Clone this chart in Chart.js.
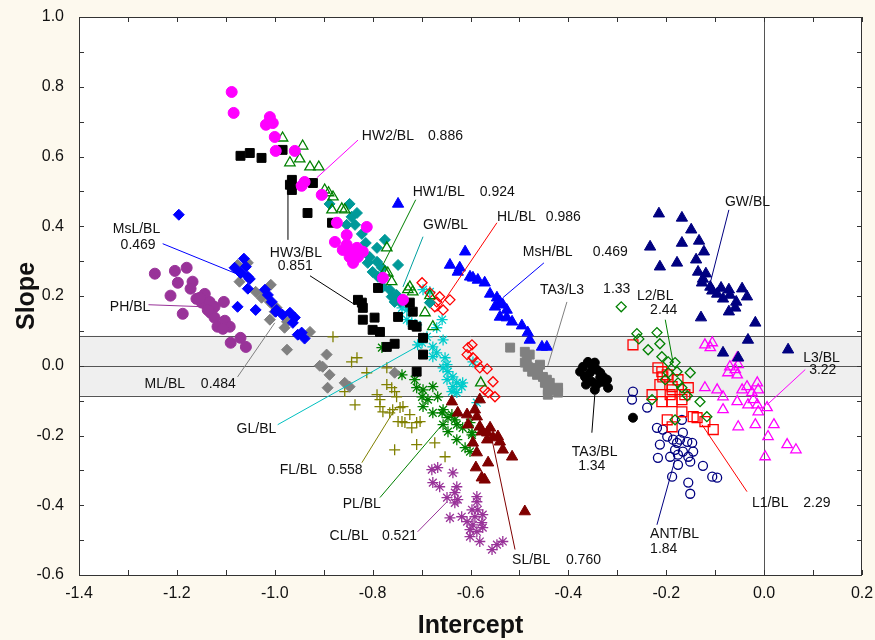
<!DOCTYPE html>
<html>
<head>
<meta charset="utf-8">
<script src="https://cdn.jsdelivr.net/npm/chart.js@4.4.1/dist/chart.umd.min.js"></script>
<style>
  html, body { margin: 0; padding: 0; background: #fdf9ee; }
  #wrap { width: 875px; height: 640px; }
</style>
</head>
<body>
<div id="wrap"><canvas id="chart" width="875" height="640"></canvas></div>
<script>
// Slope vs intercept scatter

// AXES
const xTicks = [-1.4, -1.2, -1.0, -0.8, -0.6, -0.4, -0.2, 0.0, 0.2];
const yTicks = [-0.6, -0.4, -0.2, 0.0, 0.2, 0.4, 0.6, 0.8, 1.0];
const bandLimit = 0.086; // shaded band around slope 0

// SERIES  ([intercept, slope])
const PH_BL = [[-1.245,0.264],[-1.204,0.272],[-1.180,0.281],[-1.198,0.238],[-1.168,0.241],[-1.172,0.221],[-1.213,0.201],[-1.143,0.206],[-1.160,0.192],[-1.149,0.181],[-1.133,0.183],[-1.123,0.169],[-1.104,0.183],[-1.188,0.149],[-1.131,0.152],[-1.123,0.138],[-1.102,0.129],[-1.117,0.112],[-1.092,0.112],[-1.106,0.106],[-1.090,0.066],[-1.070,0.080],[-1.059,0.054],[-1.137,0.160],[-1.153,0.195]];
const MsL_BL = [[-1.196,0.433],[-1.063,0.307],[-1.082,0.281],[-1.059,0.284],[-1.070,0.266],[-1.055,0.255],[-1.051,0.249],[-1.076,0.169],[-1.055,0.221],[-1.039,0.160],[-1.020,0.218],[-1.014,0.203],[-0.998,0.155],[-1.006,0.183],[-0.996,0.160],[-0.984,0.146],[-0.969,0.152],[-0.959,0.138],[-0.963,0.123],[-0.953,0.089],[-0.945,0.095],[-0.939,0.078]];
const ML_BL = [[-1.076,0.289],[-1.072,0.241],[-1.039,0.212],[-1.008,0.232],[-1.010,0.183],[-1.000,0.155],[-1.010,0.132],[-1.004,0.175],[-0.996,0.166],[-0.980,0.109],[-0.975,0.126],[-0.928,0.097],[-0.975,0.046],[-0.894,0.032],[-0.908,0.000],[-0.902,-0.003],[-0.888,-0.026],[-0.892,-0.063],[-0.857,-0.049],[-0.847,-0.060],[-0.755,-0.020],[-1.055,0.295],[-1.027,0.195]];
const HW3_BL = [[-1.070,0.602],[-1.051,0.610],[-1.027,0.596],[-0.984,0.619],[-0.965,0.533],[-0.965,0.504],[-0.969,0.519],[-0.922,0.524],[-0.933,0.438],[-0.883,0.410],[-0.830,0.189],[-0.822,0.181],[-0.820,0.166],[-0.820,0.132],[-0.796,0.138],[-0.800,0.103],[-0.785,0.097],[-0.771,0.054],[-0.755,0.063],[-0.789,0.223],[-0.748,0.140],[-0.724,0.181],[-0.718,0.155],[-0.718,0.117],[-0.710,0.112],[-0.697,0.080],[-0.697,0.032],[-0.710,-0.017]];
const HW2_BL = [[-1.088,0.785],[-1.084,0.725],[-1.010,0.713],[-1.004,0.696],[-1.018,0.691],[-1.000,0.656],[-0.998,0.616],[-0.959,0.616],[-0.939,0.527],[-0.945,0.516],[-0.904,0.490],[-0.873,0.410],[-0.853,0.375],[-0.812,0.398],[-0.877,0.355],[-0.853,0.347],[-0.832,0.338],[-0.840,0.324],[-0.830,0.312],[-0.840,0.295],[-0.820,0.327],[-0.847,0.312],[-0.779,0.252],[-0.738,0.189],[-0.861,0.332]];
const HW1_BL = [[-0.984,0.653],[-0.943,0.630],[-0.949,0.593],[-0.969,0.582],[-0.928,0.570],[-0.910,0.570],[-0.898,0.504],[-0.890,0.496],[-0.881,0.484],[-0.883,0.447],[-0.863,0.450],[-0.857,0.447],[-0.771,0.338],[-0.775,0.269],[-0.769,0.266],[-0.761,0.241],[-0.724,0.226],[-0.718,0.212],[-0.728,0.218],[-0.693,0.152],[-0.677,0.112],[-0.683,0.201],[-0.579,-0.049]];
const GWm_BL = [[-0.888,0.464],[-0.847,0.464],[-0.843,0.427],[-0.832,0.438],[-0.853,0.404],[-0.836,0.404],[-0.814,0.352],[-0.775,0.361],[-0.791,0.338],[-0.806,0.312],[-0.791,0.298],[-0.810,0.295],[-0.781,0.281],[-0.800,0.269],[-0.748,0.289],[-0.789,0.255],[-0.779,0.226],[-0.765,0.218],[-0.761,0.198],[-0.751,0.203],[-0.755,0.183],[-0.744,0.183],[-0.683,0.181],[-0.822,0.378]];
const HL_BL = [[-0.699,0.238],[-0.683,0.209],[-0.669,0.183],[-0.663,0.198],[-0.656,0.160],[-0.673,0.169],[-0.605,0.052],[-0.607,0.032],[-0.597,0.060],[-0.595,0.023],[-0.587,0.011],[-0.581,-0.006],[-0.566,-0.009],[-0.554,-0.046],[-0.571,-0.069],[-0.564,-0.077],[-0.550,-0.089],[-0.642,0.189]];
const MsH_BL = [[-0.748,0.464],[-0.611,0.327],[-0.622,0.281],[-0.601,0.255],[-0.595,0.252],[-0.585,0.246],[-0.571,0.238],[-0.560,0.206],[-0.546,0.195],[-0.540,0.183],[-0.550,0.169],[-0.534,0.175],[-0.526,0.160],[-0.540,0.140],[-0.526,0.138],[-0.515,0.126],[-0.495,0.115],[-0.483,0.095],[-0.454,0.054],[-0.444,0.054],[-0.479,0.074],[-0.642,0.289],[-0.626,0.269]];
const TA3_L3 = [[-0.519,0.052],[-0.489,0.040],[-0.485,0.023],[-0.479,0.032],[-0.489,0.009],[-0.483,-0.003],[-0.468,-0.006],[-0.474,-0.017],[-0.462,-0.017],[-0.464,-0.026],[-0.452,-0.032],[-0.444,-0.040],[-0.448,-0.049],[-0.438,-0.049],[-0.442,-0.069],[-0.431,-0.069],[-0.421,-0.063],[-0.421,-0.077],[-0.442,-0.083],[-0.458,0.003]];
const TA3_BL = [[-0.360,0.011],[-0.370,-0.003],[-0.376,-0.017],[-0.350,-0.003],[-0.342,-0.011],[-0.335,-0.020],[-0.329,-0.032],[-0.321,-0.040],[-0.366,-0.032],[-0.352,-0.046],[-0.342,-0.054],[-0.346,-0.069],[-0.319,-0.063],[-0.356,-0.020],[-0.331,-0.046],[-0.268,-0.149],[-0.346,0.009],[-0.364,-0.054],[-0.335,-0.034]];
const L2_BL = [[-0.292,0.169],[-0.260,0.092],[-0.256,0.077],[-0.237,0.046],[-0.219,0.095],[-0.209,0.026],[-0.196,0.011],[-0.182,0.009],[-0.178,-0.017],[-0.196,-0.020],[-0.202,-0.040],[-0.176,-0.049],[-0.168,-0.063],[-0.151,-0.020],[-0.131,-0.103],[-0.117,-0.146],[-0.182,-0.155],[-0.229,-0.097],[-0.213,0.063],[-0.157,-0.086]];
const GW_BL = [[-0.215,0.436],[-0.168,0.424],[-0.149,0.390],[-0.133,0.358],[-0.168,0.352],[-0.233,0.341],[-0.123,0.327],[-0.139,0.304],[-0.178,0.295],[-0.213,0.284],[-0.135,0.269],[-0.119,0.264],[-0.125,0.249],[-0.127,0.238],[-0.110,0.226],[-0.088,0.223],[-0.072,0.218],[-0.045,0.221],[-0.106,0.215],[-0.096,0.206],[-0.084,0.192],[-0.070,0.203],[-0.035,0.198],[-0.057,0.183],[-0.059,0.166],[-0.072,0.155],[-0.129,0.138],[-0.018,0.123],[-0.033,0.074],[-0.084,0.037],[-0.053,0.023],[0.049,0.046]];
const L3_BL = [[-0.121,0.060],[-0.110,0.052],[-0.106,0.066],[-0.070,-0.003],[-0.074,-0.020],[-0.059,-0.011],[-0.055,-0.026],[-0.053,0.003],[-0.121,-0.063],[-0.096,-0.069],[-0.084,-0.089],[-0.045,-0.069],[-0.035,-0.060],[-0.014,-0.049],[-0.012,-0.069],[-0.025,-0.077],[-0.022,-0.097],[-0.033,-0.112],[-0.014,-0.112],[0.006,-0.120],[-0.012,-0.132],[-0.084,-0.126],[-0.055,-0.103],[-0.053,-0.175],[-0.018,-0.169],[0.020,-0.169],[0.008,-0.203],[0.047,-0.226],[0.065,-0.241],[0.002,-0.261],[-0.055,0.023]];
const L1_BL = [[-0.268,0.060],[-0.217,-0.006],[-0.209,-0.017],[-0.207,-0.032],[-0.198,-0.026],[-0.188,-0.060],[-0.188,-0.069],[-0.192,-0.083],[-0.229,-0.083],[-0.209,-0.103],[-0.188,-0.103],[-0.168,-0.097],[-0.155,-0.063],[-0.162,-0.083],[-0.168,-0.132],[-0.145,-0.146],[-0.137,-0.149],[-0.121,-0.160],[-0.104,-0.183],[-0.198,-0.155],[-0.188,-0.175],[-0.213,-0.054],[-0.176,-0.040]];
const ANT_BL = [[-0.268,-0.074],[-0.270,-0.097],[-0.239,-0.120],[-0.219,-0.178],[-0.207,-0.183],[-0.198,-0.203],[-0.186,-0.212],[-0.172,-0.212],[-0.166,-0.192],[-0.178,-0.221],[-0.157,-0.218],[-0.147,-0.221],[-0.168,-0.155],[-0.182,-0.241],[-0.166,-0.246],[-0.176,-0.255],[-0.155,-0.261],[-0.145,-0.246],[-0.217,-0.264],[-0.192,-0.261],[-0.176,-0.284],[-0.151,-0.275],[-0.125,-0.287],[-0.188,-0.318],[-0.106,-0.318],[-0.096,-0.321],[-0.155,-0.335],[-0.151,-0.367],[-0.213,-0.226]];
const SL_BL = [[-0.638,-0.103],[-0.626,-0.135],[-0.607,-0.140],[-0.587,-0.146],[-0.605,-0.169],[-0.581,-0.175],[-0.577,-0.189],[-0.566,-0.192],[-0.554,-0.206],[-0.544,-0.203],[-0.566,-0.212],[-0.595,-0.221],[-0.587,-0.249],[-0.534,-0.241],[-0.515,-0.261],[-0.564,-0.278],[-0.589,-0.292],[-0.577,-0.321],[-0.571,-0.327],[-0.489,-0.418],[-0.581,-0.097],[-0.591,-0.126],[-0.560,-0.178],[-0.540,-0.218]];
const CL_BL = [[-0.679,-0.298],[-0.667,-0.292],[-0.636,-0.307],[-0.677,-0.335],[-0.663,-0.347],[-0.628,-0.347],[-0.632,-0.364],[-0.648,-0.378],[-0.626,-0.384],[-0.632,-0.393],[-0.587,-0.375],[-0.587,-0.390],[-0.597,-0.413],[-0.585,-0.413],[-0.575,-0.427],[-0.591,-0.433],[-0.618,-0.433],[-0.642,-0.436],[-0.607,-0.447],[-0.595,-0.456],[-0.577,-0.450],[-0.601,-0.470],[-0.587,-0.476],[-0.575,-0.464],[-0.601,-0.490],[-0.581,-0.504],[-0.556,-0.527],[-0.546,-0.513],[-0.534,-0.504]];
const PL_BL = [[-0.781,0.052],[-0.740,-0.026],[-0.714,-0.040],[-0.710,-0.063],[-0.697,-0.069],[-0.699,-0.089],[-0.687,-0.097],[-0.677,-0.060],[-0.667,-0.089],[-0.656,-0.126],[-0.638,-0.140],[-0.658,-0.135],[-0.632,-0.155],[-0.697,-0.117],[-0.677,-0.135],[-0.646,-0.149],[-0.628,-0.169],[-0.656,-0.169],[-0.646,-0.189],[-0.601,-0.163],[-0.628,-0.212],[-0.611,-0.235],[-0.601,-0.246],[-0.597,-0.192],[-0.616,-0.178],[-0.597,-0.198]];
const FL_BL = [[-0.881,0.083],[-0.832,0.023],[-0.843,0.011],[-0.812,-0.020],[-0.771,-0.006],[-0.771,-0.054],[-0.761,-0.063],[-0.755,-0.074],[-0.857,-0.074],[-0.791,-0.083],[-0.785,-0.097],[-0.751,-0.089],[-0.738,-0.117],[-0.836,-0.112],[-0.785,-0.117],[-0.779,-0.132],[-0.765,-0.135],[-0.740,-0.160],[-0.734,-0.163],[-0.710,-0.163],[-0.703,-0.160],[-0.759,-0.126],[-0.744,-0.120],[-0.724,-0.140],[-0.748,-0.160],[-0.720,-0.178],[-0.755,-0.241],[-0.710,-0.226],[-0.673,-0.221],[-0.652,-0.261]];
const GL_BL = [[-0.740,0.166],[-0.730,0.160],[-0.730,0.132],[-0.720,0.123],[-0.710,0.117],[-0.697,0.218],[-0.683,0.212],[-0.658,0.132],[-0.669,0.109],[-0.689,0.083],[-0.699,0.066],[-0.708,0.060],[-0.677,0.054],[-0.669,0.037],[-0.677,0.026],[-0.656,0.074],[-0.652,0.023],[-0.648,0.003],[-0.656,-0.006],[-0.646,-0.017],[-0.636,-0.032],[-0.648,-0.040],[-0.628,-0.049],[-0.636,-0.060],[-0.618,-0.060],[-0.638,-0.074],[-0.628,-0.077],[-0.595,0.011],[-0.587,-0.106],[-0.616,-0.049]];

// marker look for each series (index 0 drawn on top)
const seriesStyle = [
  { name:'HW2/BL',  data:HW2_BL,  shape:'circle',   color:'#ff00ff', r:5.5, open:false },
  { name:'HW3/BL',  data:HW3_BL,  shape:'rect',     color:'#000000', r:6.3, open:false },
  { name:'HW1/BL',  data:HW1_BL,  shape:'triangle', color:'#008000', r:6,   open:true  },
  { name:'GW/BL mid', data:GWm_BL, shape:'rectRot', color:'#009999', r:5.5, open:false },
  { name:'PH/BL',   data:PH_BL,   shape:'circle',   color:'#993399', r:5.5, open:false },
  { name:'MsL/BL',  data:MsL_BL,  shape:'rectRot',  color:'#0000ff', r:5.5, open:false },
  { name:'ML/BL',   data:ML_BL,   shape:'rectRot',  color:'#808080', r:5.5, open:false },
  { name:'HL/BL',   data:HL_BL,   shape:'rectRot',  color:'#ff0000', r:5,   open:true  },
  { name:'MsH/BL',  data:MsH_BL,  shape:'triangle', color:'#0000ff', r:6.5, open:false },
  { name:'TA3/L3',  data:TA3_L3,  shape:'rect',     color:'#808080', r:6.3, open:false },
  { name:'TA3/BL',  data:TA3_BL,  shape:'circle',   color:'#000000', r:4.5, open:false },
  { name:'L2/BL',   data:L2_BL,   shape:'rectRot',  color:'#008000', r:5,   open:true  },
  { name:'GW/BL',   data:GW_BL,   shape:'triangle', color:'#000080', r:6.5, open:false },
  { name:'L3/BL',   data:L3_BL,   shape:'triangle', color:'#ff00ff', r:6,   open:true  },
  { name:'L1/BL',   data:L1_BL,   shape:'rect',     color:'#ff0000', r:7,   open:true  },
  { name:'ANT/BL',  data:ANT_BL,  shape:'circle',   color:'#000080', r:4.5, open:true  },
  { name:'SL/BL',   data:SL_BL,   shape:'triangle', color:'#800000', r:6.5, open:false },
  { name:'CL/BL',   data:CL_BL,   shape:'star',     color:'#993399', r:5.5, open:true  },
  { name:'PL/BL',   data:PL_BL,   shape:'star',     color:'#008000', r:5.5, open:true  },
  { name:'FL/BL',   data:FL_BL,   shape:'cross',    color:'#808000', r:5.5, open:true  },
  { name:'GL/BL',   data:GL_BL,   shape:'star',     color:'#00cccc', r:5.5, open:true  }
];

// LABELS + LEADER LINES (data units)
const noteTexts = [
  ['HW2/BL',-0.822,0.659],['0.886',-0.687,0.659],
  ['HW1/BL',-0.718,0.499],['0.924',-0.581,0.499],
  ['GW/BL',-0.697,0.404],
  ['HL/BL',-0.546,0.427],['0.986',-0.446,0.427],
  ['MsH/BL',-0.493,0.327],['0.469',-0.350,0.327],
  ['TA3/L3',-0.458,0.218],['1.33',-0.329,0.221],
  ['L2/BL',-0.260,0.201],['2.44',-0.233,0.160],
  ['GW/BL',-0.080,0.470],
  ['L3/BL',0.080,0.023],['3.22',0.092,-0.014],
  ['L1/BL',-0.025,-0.393],['2.29',0.080,-0.393],
  ['ANT/BL',-0.233,-0.484],['1.84',-0.233,-0.527],
  ['TA3/BL',-0.393,-0.249],['1.34',-0.380,-0.289],
  ['SL/BL',-0.515,-0.556],['0.760',-0.405,-0.556],
  ['CL/BL',-0.888,-0.490],['0.521',-0.781,-0.490],
  ['PL/BL',-0.861,-0.398],
  ['FL/BL',-0.990,-0.298],['0.558',-0.892,-0.298],
  ['GL/BL',-1.078,-0.183],
  ['ML/BL',-1.266,-0.052],['0.484',-1.151,-0.052],
  ['PH/BL',-1.337,0.169],
  ['MsL/BL',-1.331,0.393],['0.469',-1.315,0.347],
  ['HW3/BL',-1.010,0.324],['0.851',-0.994,0.287]
];
const noteLines = [
  [-0.830,0.647,-0.914,0.539,'#ff00ff'],
  [-0.712,0.476,-0.779,0.289,'#008000'],
  [-0.697,0.370,-0.738,0.226,'#00a0a0'],
  [-0.546,0.410,-0.669,0.155,'#ff0000'],
  [-0.450,0.295,-0.534,0.195,'#0000ff'],
  [-0.403,0.183,-0.442,0.000,'#808080'],
  [-0.202,0.132,-0.186,0.009,'#008000'],
  [-0.072,0.447,-0.110,0.238,'#000080'],
  [0.084,-0.011,0.006,-0.112,'#ff00ff'],
  [-0.035,-0.361,-0.127,-0.169,'#ff0000'],
  [-0.219,-0.456,-0.182,-0.269,'#000080'],
  [-0.352,-0.192,-0.346,-0.083,'#000000'],
  [-0.509,-0.527,-0.556,-0.212,'#800000'],
  [-0.708,-0.476,-0.648,-0.390,'#993399'],
  [-0.785,-0.378,-0.658,-0.169,'#008000'],
  [-0.822,-0.278,-0.751,-0.117,'#808000'],
  [-0.994,-0.169,-0.703,0.060,'#00c0c0'],
  [-1.076,-0.032,-1.000,0.123,'#808080'],
  [-1.258,0.175,-1.143,0.169,'#993399'],
  [-1.229,0.350,-1.082,0.266,'#0000ff'],
  [-0.928,0.258,-0.836,0.175,'#000000'],
  [-0.973,0.361,-0.973,0.524,'#000000']
];

const FONT = 'Arial, "Liberation Sans", sans-serif';

const crisp = v => Math.round(v) + 0.5;

// background, shaded band, frame with inside ticks, notes
const decor = {
  id: 'decor',
  beforeDraw(chart){
    const {ctx, chartArea:a} = chart;
    ctx.save();
    ctx.fillStyle = '#fdf9ee';
    ctx.fillRect(0, 0, chart.width, chart.height);
    ctx.fillStyle = '#ffffff';
    ctx.fillRect(a.left, a.top, a.right - a.left, a.bottom - a.top);
    ctx.restore();
  },
  beforeDatasetsDraw(chart){
    const {ctx, chartArea:a, scales:{x, y}} = chart;
    const yHi = y.getPixelForValue(bandLimit), yLo = y.getPixelForValue(-bandLimit);
    ctx.save();
    ctx.fillStyle = '#efefef';
    ctx.fillRect(a.left, yHi, a.right - a.left, yLo - yHi);
    ctx.strokeStyle = '#555555';
    ctx.lineWidth = 1;
    ctx.beginPath();
    [bandLimit, 0, -bandLimit].forEach(v => {
      const py = crisp(y.getPixelForValue(v));
      ctx.moveTo(a.left, py); ctx.lineTo(a.right, py);
    });
    const px0 = crisp(x.getPixelForValue(0));
    ctx.moveTo(px0, a.top); ctx.lineTo(px0, a.bottom);
    ctx.stroke();
    ctx.restore();
  },
  afterDatasetsDraw(chart){
    const {ctx, chartArea:a, scales:{x, y}} = chart;
    ctx.save();
    // leader lines
    ctx.lineWidth = 1;
    noteLines.forEach(([x1, y1, x2, y2, c]) => {
      ctx.strokeStyle = c;
      ctx.beginPath();
      ctx.moveTo(x.getPixelForValue(x1), y.getPixelForValue(y1));
      ctx.lineTo(x.getPixelForValue(x2), y.getPixelForValue(y2));
      ctx.stroke();
    });
    // label text
    ctx.fillStyle = '#111111';
    ctx.font = '14px ' + FONT;
    ctx.textBaseline = 'middle';
    ctx.textAlign = 'left';
    noteTexts.forEach(([t, tx, ty]) => {
      ctx.fillText(t, x.getPixelForValue(tx), y.getPixelForValue(ty));
    });
    // frame
    ctx.strokeStyle = '#333333';
    ctx.strokeRect(crisp(a.left), crisp(a.top), Math.round(a.right - a.left) - 1, Math.round(a.bottom - a.top));
    // inside ticks, major + minor
    ctx.beginPath();
    const tl = 5;
    for (let i = 0; i < xTicks.length; i++) {
      const vals = [xTicks[i]];
      if (i < xTicks.length - 1) vals.push((xTicks[i] + xTicks[i + 1]) / 2);
      vals.forEach(v => {
        const px = crisp(x.getPixelForValue(v));
        ctx.moveTo(px, a.bottom); ctx.lineTo(px, a.bottom - tl);
        ctx.moveTo(px, a.top); ctx.lineTo(px, a.top + tl);
      });
    }
    for (let i = 0; i < yTicks.length; i++) {
      const vals = [yTicks[i]];
      if (i < yTicks.length - 1) vals.push((yTicks[i] + yTicks[i + 1]) / 2);
      vals.forEach(v => {
        const py = crisp(y.getPixelForValue(v));
        ctx.moveTo(a.left, py); ctx.lineTo(a.left + tl, py);
        ctx.moveTo(a.right, py); ctx.lineTo(a.right - tl, py);
      });
    }
    ctx.stroke();
    ctx.restore();
  }
};

const fmt = v => (Math.abs(v) < 1e-9 ? 0 : v).toFixed(1);

new Chart(document.getElementById('chart'), {
  type: 'scatter',
  data: {
    datasets: seriesStyle.map(s => ({
      label: s.name,
      data: s.data.map(([px, py]) => ({ x: px, y: py })),
      pointStyle: s.shape,
      pointRadius: s.r,
      pointHoverRadius: s.r,
      borderColor: s.color,
      backgroundColor: s.open ? 'rgba(0,0,0,0)' : s.color,
      borderWidth: s.open ? 1.3 : 1
    }))
  },
  options: {
    responsive: false,
    animation: false,
    devicePixelRatio: 1,
    layout: { padding: { top: 17, right: 13, left: 0, bottom: 0 } },
    plugins: { legend: { display: false }, tooltip: { enabled: false } },
    scales: {
      x: {
        type: 'linear', min: -1.4, max: 0.2,
        afterBuildTicks: s => { s.ticks = xTicks.map(v => ({ value: v })); },
        afterFit: s => { s.height = 65; s.paddingLeft = 0; s.paddingRight = 0; },
        grid: { display: false, drawTicks: false },
        border: { display: false },
        ticks: { callback: fmt, color: '#111', padding: 9, maxRotation: 0, autoSkip: false, font: { family: FONT, size: 16 } },
        title: { display: true, text: 'Intercept', color: '#111', padding: { top: 0, bottom: 1 },
                 font: { family: FONT, size: 25, weight: 'bold', lineHeight: 1 } }
      },
      y: {
        type: 'linear', min: -0.6, max: 1.0,
        afterBuildTicks: s => { s.ticks = yTicks.map(v => ({ value: v })); },
        afterFit: s => { s.width = 79; s.paddingTop = 0; s.paddingBottom = 0; },
        grid: { display: false, drawTicks: false },
        border: { display: false },
        ticks: { callback: fmt, color: '#111', padding: 15, autoSkip: false, font: { family: FONT, size: 16 } },
        title: { display: true, text: 'Slope', color: '#111', padding: { top: 15, bottom: 0 },
                 font: { family: FONT, size: 25, weight: 'bold', lineHeight: 1 } }
      }
    }
  },
  plugins: [decor]
});
</script>
</body>
</html>
